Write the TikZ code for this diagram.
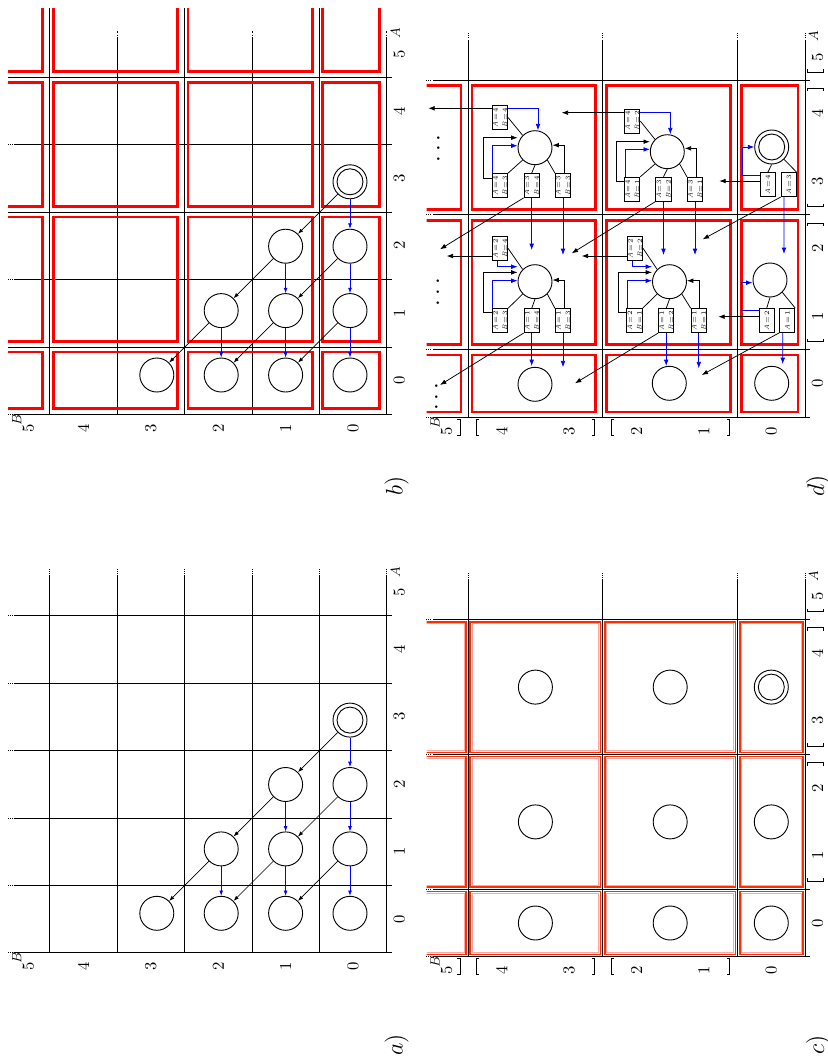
\documentclass[tikz,border=0pt]{standalone}
\usetikzlibrary{arrows.meta}
\newcommand\ablab[2]{\rotatebox{90}{\shortstack{\textit{A}\,=\,#1\\\textit{B}\,=\,#2}}}
\newcommand\alab[1]{\rotatebox{90}{\textit{A}\,=\,#1}}
% full grid: #1 = ax, #2 = ay
\newcommand\fullgrid[2]{%
  \foreach \k in {0,...,5}{
    \draw[gl] ({#1-67.4*\k},#2) -- ({#1-67.4*\k},{#2-376.7});
    \draw[gdot] ({#1-67.4*\k},{#2-376.7}) -- ({#1-67.4*\k},{#2-383.7});
    \draw[gl] ({#1+5},{#2-67.4*\k}) -- ({#1-371.7},{#2-67.4*\k});
    \draw[gdot] ({#1-371.7},{#2-67.4*\k}) -- ({#1-378.7},{#2-67.4*\k});
  }}
\newcommand\coarsegrid[2]{%
  \foreach \k in {0,1,3,5}{
    \draw[gl] ({#1-67.4*\k},#2) -- ({#1-67.4*\k},{#2-376.7});
    \draw[gdot] ({#1-67.4*\k},{#2-376.7}) -- ({#1-67.4*\k},{#2-383.7});
    \draw[gl] ({#1+5},{#2-67.4*\k}) -- ({#1-371.7},{#2-67.4*\k});
    \draw[gdot] ({#1-371.7},{#2-67.4*\k}) -- ({#1-378.7},{#2-67.4*\k});
  }}
% axis labels: #1 ax, #2 ay, #3 prefix
\newcommand\axlabels[3]{%
  \foreach \k in {0,...,4}{
    \node[lab] (#3A\k) at ({#1+12.5},{#2-33.7-67.4*\k}) {\k};
    \node[lab] (#3B\k) at ({#1-33.7-67.4*\k},{#2+14}) {\k};
  }
  \node[lab] (#3A5) at ({#1+12.5},{#2-360}) {5};
  \node[lab] (#3B5) at ({#1-358.5},{#2+14}) {5};
  \node[sml] (#3Al) at ({#1+8.5},{#2-381}) {$A$};
  \node[sml] (#3Bl) at ({#1-370},{#2+5.5}) {$B$};
}
% brackets on the axes of the coarse panels
\newcommand\brackets[2]{%
  \foreach \p/\s in {0.62/-1,2.38/1,2.62/-1,4.38/1,4.62/-1}{
    \draw[brk] ({#1-67.4*(\p+0.5)+\s*3},{#2+2}) -- ({#1-67.4*(\p+0.5)},{#2+2})
       -- ({#1-67.4*(\p+0.5)},{#2+18}) -- ({#1-67.4*(\p+0.5)+\s*3},{#2+18});
    \draw[brk] ({#1+2},{#2-67.4*(\p+0.5)+\s*3}) -- ({#1+2},{#2-67.4*(\p+0.5)})
       -- ({#1+18},{#2-67.4*(\p+0.5)}) -- ({#1+18},{#2-67.4*(\p+0.5)+\s*3});
  }}
\begin{document}
\begin{tikzpicture}[x=0.6pt,y=-0.6pt,
  gl/.style={line width=0.45pt},
  gdot/.style={line width=0.45pt,dash pattern=on 0.45pt off 0.9pt},
  st/.style={circle,draw,line width=0.55pt,minimum size=20.4pt,inner sep=0pt},
  sti/.style={circle,draw,line width=0.55pt,minimum size=15.6pt,inner sep=0pt},
  arr/.style={-{Latex[length=3.2pt,width=2.3pt]},line width=0.4pt},
  barr/.style={arr,blue},
  darr/.style={-{Latex[length=3.8pt,width=2.8pt]},line width=0.45pt},
  dbarr/.style={darr,blue},
  rb/.style={draw=red,line width=1.6pt},
  rc/.style={draw={rgb,255:red,255;green,45;blue,0},line width=0.9pt},
  rci/.style={draw=red!35,line width=0.45pt},
  sb/.style={draw,line width=0.45pt,minimum width=9.2pt,minimum height=14.4pt,inner sep=0pt,fill=white,font=\fontsize{4}{4.4}\selectfont},
  lab/.style={rotate=90,inner sep=0pt},
  sml/.style={rotate=90,inner sep=0pt,font=\footnotesize},
  brk/.style={line width=0.45pt},
]
\useasboundingbox (0,0) rectangle (828,1057);

%%%%%%%%%%%%%%%% panel a
\fullgrid{386.7}{952.7}
\axlabels{386.7}{952.7}{a}
%%%%%%%%%%%%%%%% panel b
\fullgrid{386.7}{414.3}
\axlabels{386.7}{414.3}{b}
\foreach \k in {1,3,5}{
  \draw[gl] ({386.7-67.4*\k},414.3) -- ({386.7-67.4*\k},8);
  \draw[gl] (391.7,{414.3-67.4*\k}) -- (8,{414.3-67.4*\k});
}
\begin{scope}
\clip (8,8) rectangle (395,420);
\foreach \ya/\yb in {346.9/414.3, 212.1/346.9, 77.3/212.1, -60/77.3}
  \foreach \xa/\xb in {319.3/386.7, 184.5/319.3, 49.7/184.5, -60/49.7}
    \draw[rb] ({\xa+3.5},{\ya+5}) rectangle ({\xb-7},{\yb-5.5});
\end{scope}

% circles of panels a and b
\foreach \P/\Y in {a/913.3,b/375}{
  \foreach \A/\B in {0/0,1/0,2/0,3/0,0/1,1/1,2/1,0/2,1/2,0/3}
    \node[st] (\P\A\B) at ({350-64.4*\B},{\Y-64.4*\A}) {};
  \node[sti] (\P30i) at (\P30) {};
  \foreach \s/\t in {30/20,20/10,10/00,21/11,11/01,12/02}
    \draw[barr] (\P\s) -- (\P\t);
  \foreach \s/\t in {30/21,21/12,12/03,20/11,11/02,10/01}
    \draw[arr] (\P\s) -- (\P\t);
}

%%%%%%%%%%%%%%%% panel c
\coarsegrid{805}{956.7}
\axlabels{805}{956.7}{c}
\brackets{805}{956.7}
\begin{scope}
\clip (426.7,560) rectangle (810,960);
\foreach \ya/\yb in {889.3/956.7, 754.5/889.3, 619.7/754.5}
  \foreach \xa/\xb in {737.6/805, 602.8/737.6, 468/602.8, 300/468}{
    \draw[rc] ({\xa+2.2},{\ya+2.2}) rectangle ({\xb-2.2},{\yb-2.2});
    \draw[rci] ({\xa+4},{\ya+4}) rectangle ({\xb-4},{\yb-4});
  }
\end{scope}
\foreach \i/\X in {0/771.3,1/670.2,2/535.4}
  \foreach \j/\Y in {0/923,1/821.9,2/687.1}
    \node[st] (c\j\i) at (\X,\Y) {};
\node[sti] (c20i) at (c20) {};

%%%%%%%%%%%%%%%% panel d
\coarsegrid{805}{417}
\axlabels{805}{417}{d}
\brackets{805}{417}
\begin{scope}
\clip (426.7,20) rectangle (810,420);
\foreach \ya/\yb in {349.6/417, 214.8/349.6, 80/214.8}
  \foreach \xa/\xb in {737.6/805, 602.8/737.6, 468/602.8, 300/468}
    \draw[rb] ({\xa+4},{\ya+5.5}) rectangle ({\xb-7},{\yb-5});
\end{scope}

% free ends of the arrows
\coordinate (e1) at (428.3,108.3);
\coordinate (e2) at (561.7,112.7);
\coordinate (e3) at (719.3,181);
\coordinate (e4) at (531.7,250);
\coordinate (e5) at (440,249.3);
\coordinate (e6) at (564,255);
\coordinate (e7) at (664,255);
\coordinate (e8) at (571.7,253.3);
\coordinate (e9) at (696,255);
\coordinate (e10) at (784,254);
\coordinate (e11) at (702.7,239.3);
\coordinate (e12) at (446.7,256);
\coordinate (e13) at (581.7,256);
\coordinate (e14) at (718.3,316.7);
\coordinate (e15) at (531.7,366);
\coordinate (e16) at (440,385);
\coordinate (e17) at (564,367.3);
\coordinate (e18) at (666,366);
\coordinate (e19) at (575,383.3);
\coordinate (e20) at (699.3,368.3);
\coordinate (e21) at (782.7,364);
\coordinate (e22) at (701.7,375);

% group A{3,4} B{3,4}
\node[st] (d1) at (535,147.7) {};
\node[sb] (d44) at (500,117.5) {\ablab44};
\node[sb] (d43) at (500,185.5) {\ablab43};
\node[sb] (d34) at (531.7,185.5) {\ablab34};
\node[sb] (d33) at (563,185.5) {\ablab33};
\draw[gl] (d44.east) -- (d1.north west);
\draw[dbarr] (d44.east |- e1) -| ([xshift=1.8pt]d1.north);
\draw[darr] (d44.west |- e1) -- (e1);
\draw[gl] (d43.north east) -- (d1.south west);
\draw[darr] ([yshift=-2.9pt]d43.north west) -- ++(-8.3,0) |- ([yshift=6pt]d1.west);
\draw[dbarr] ([xshift=0.4pt]d43.north west) |- ([yshift=1.2pt]d1.west);
\draw[gl] (d34.north) -- (d1.south);
\draw[dbarr] (d34.south) -- (d34.south |- e4);
\draw[darr] (d34.south west) -- (e5);
\draw[gl] (d33.north west) -- (d1.south east);
\draw[darr] ([xshift=0.6pt]d33.north) |- ([yshift=1.5pt]d1.east);
\draw[dbarr] (d33.south) -- (d33.south |- e6);

% group A{3,4} B{1,2}
\node[st] (d2) at (667.3,151.7) {};
\node[sb] (d42) at (632.2,121) {\ablab42};
\node[sb] (d41) at (632.2,189.2) {\ablab41};
\node[sb] (d32) at (663.5,189.2) {\ablab32};
\node[sb] (d31) at (695,189.2) {\ablab31};
\draw[gl] (d42.east) -- (d2.north west);
\draw[dbarr] (d42.east |- e2) -| ([xshift=1.8pt]d2.north);
\draw[darr] (d42.west |- e2) -- (e2);
\draw[gl] (d41.north east) -- (d2.south west);
\draw[darr] ([yshift=-2.7pt]d41.north west) -- ++(-7.8,0) |- ([yshift=6pt]d2.west);
\draw[dbarr] ([xshift=0.9pt]d41.north west) |- ([yshift=1.4pt]d2.west);
\draw[gl] (d32.north) -- (d2.south);
\draw[dbarr] (d32.south) -- (d32.south |- e7);
\draw[darr] (d32.south west) -- (e8);
\draw[gl] (d31.north west) -- (d2.south east);
\draw[darr] ([xshift=1pt]d31.north) |- ([yshift=2pt]d2.east);
\draw[dbarr] (d31.south) -- (d31.south |- e9);

% group A{3,4} B{0}
\node[st] (d3) at (771.7,147) {};
\node[sti] (d3i) at (d3) {};
\node[sb] (d40) at (767.8,184.7) {\alab4};
\node[sb] (d30) at (788.7,184.7) {\alab3};
\draw[gl] (d40.north) -- (d3.south);
\draw[dbarr] ([yshift=-2pt]d40.north west) -- ++(-17.3,0) |- (d3.west);
\draw[darr] (d40.west |- e3) -- (e3);
\draw[gl] (d30.north east) -- (d3.south east);
\draw[dbarr] ([xshift=-2.8pt]d30.south) -- (e10);
\draw[darr] (d30.south west) -- (e11);

% group A{1,2} B{3,4}
\node[st] (d4) at (535,281.7) {};
\node[sb] (d24) at (500,248.3) {\ablab24};
\node[sb] (d23) at (500,320.7) {\ablab23};
\node[sb] (d14) at (531.7,320.7) {\ablab14};
\node[sb] (d13) at (563,320.7) {\ablab13};
\draw[gl] (d24.east) -- (d4.north west);
\draw[dbarr] ([xshift=-1.6pt]d24.south) |- ([yshift=9pt]d4.west);
\draw[darr] (d24.west |- e12) -- (e12);
\draw[gl] (d23.north east) -- (d4.south west);
\draw[darr] ([yshift=-2.7pt]d23.north west) -- ++(-8.3,0) |- ([yshift=5.6pt]d4.west);
\draw[dbarr] ([xshift=0.5pt]d23.north west) |- ([yshift=0.6pt]d4.west);
\draw[gl] (d14.north) -- (d4.south);
\draw[dbarr] (d14.south) -- (d14.south |- e15);
\draw[darr] (d14.south west) -- (e16);
\draw[gl] (d13.north west) -- (d4.south east);
\draw[darr] ([xshift=0.6pt]d13.north) |- ([yshift=1pt]d4.east);
\draw[dbarr] (d13.south) -- (d13.south |- e17);

% group A{1,2} B{1,2}
\node[st] (d5) at (669.5,281.7) {};
\node[sb] (d22) at (635,248.3) {\ablab22};
\node[sb] (d21) at (634.5,320.7) {\ablab21};
\node[sb] (d12) at (666.2,320.7) {\ablab12};
\node[sb] (d11) at (698.8,320.7) {\ablab11};
\draw[gl] (d22.east) -- (d5.north west);
\draw[dbarr] ([xshift=-1.6pt]d22.south) |- ([yshift=9pt]d5.west);
\draw[darr] (d22.west |- e13) -- (e13);
\draw[gl] (d21.north east) -- (d5.south west);
\draw[darr] ([yshift=-2.7pt]d21.north west) -- ++(-8.2,0) |- ([yshift=5.6pt]d5.west);
\draw[dbarr] ([xshift=0.8pt]d21.north west) |- ([yshift=0.6pt]d5.west);
\draw[gl] (d12.north) -- (d5.south);
\draw[dbarr] (d12.south) -- (d12.south |- e18);
\draw[darr] (d12.south west) -- (e19);
\draw[gl] (d11.north west) -- (d5.south east);
\draw[darr] ([xshift=0.6pt]d11.north) |- ([yshift=0.6pt]d5.east);
\draw[dbarr] (d11.south) -- (d11.south |- e20);

% group A{1,2} B{0}
\node[st] (d6) at (770,280) {};
\node[sb] (d20) at (766.7,320.5) {\alab2};
\node[sb] (d10) at (787.2,320.5) {\alab1};
\draw[gl] (d20.north) -- (d6.south);
\draw[dbarr] ([yshift=-1.5pt]d20.north west) -- ++(-17,0) |- ([yshift=-1.6pt]d6.west);
\draw[darr] (d20.west |- e14) -- (e14);
\draw[gl] (d10.north east) -- (d6.south east);
\draw[dbarr] ([xshift=-2.6pt]d10.south) -- (e21);
\draw[darr] (d10.south west) -- (e22);

% groups A{0}
\node[st] (d7) at (535,384.3) {};
\node[st] (d8) at (669.3,383.3) {};
\node[st] (d9) at (771.7,383.3) {};
\node[lab,font=\Large] (dd1) at (439,148.5) {$\cdots$};
\node[lab,font=\Large] (dd2) at (438.5,292) {$\cdots$};
\node[lab,font=\Large] (dd3) at (437,396.7) {$\cdots$};

%%%%%%%%%%%%%%%% panel captions
\node[lab,font=\Large] (capa) at (396.7,1045) {$a)$};
\node[lab,font=\Large] (capb) at (396.7,486) {$b)$};
\node[lab,font=\Large] (capc) at (818,1045) {$c)$};
\node[lab,font=\Large] (capd) at (818,486) {$d)$};
\end{tikzpicture}
\end{document}
